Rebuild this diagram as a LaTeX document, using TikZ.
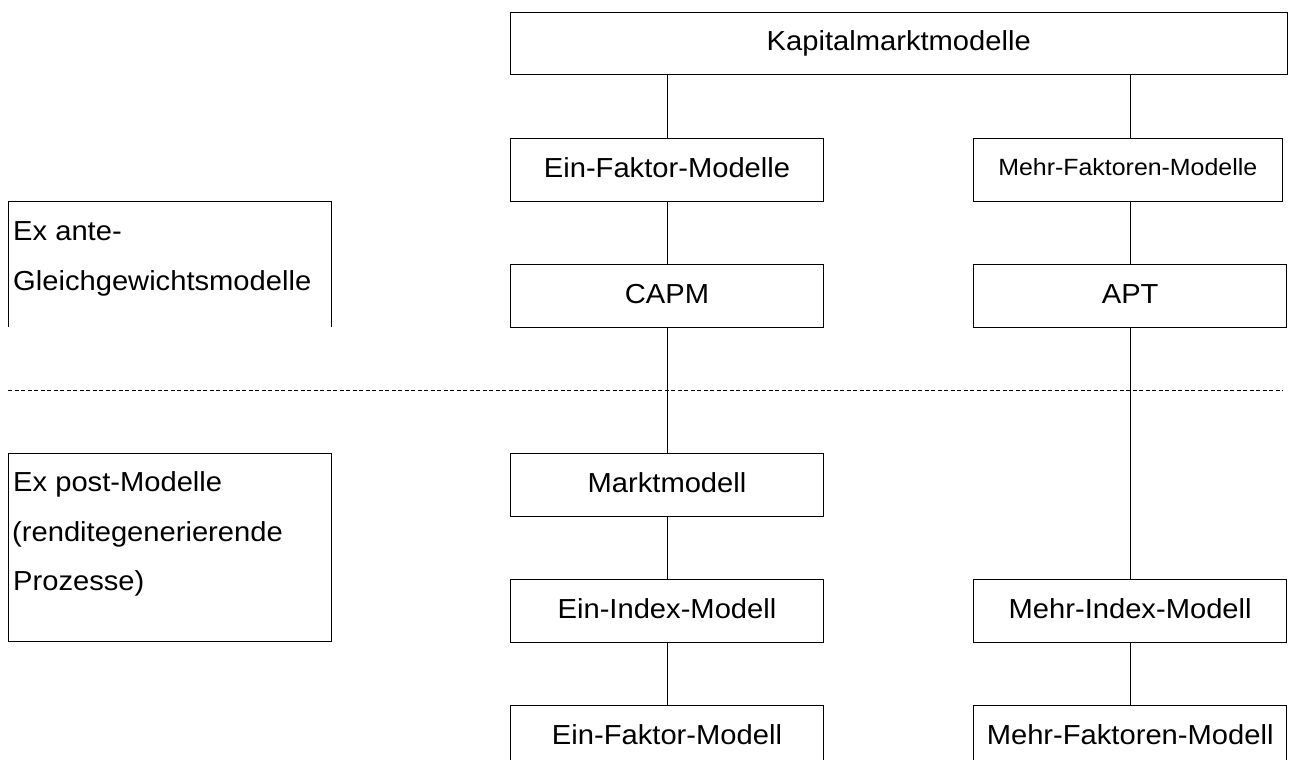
\documentclass[tikz,border=0pt]{standalone}
\usepackage{fontspec}
\setmainfont[FakeStretch=1.06]{Liberation Sans}
\begin{document}
\begin{tikzpicture}[x=1pt,y=-1pt,
  box/.style={draw, line width=1pt, inner sep=0pt, text height=19.7pt, text depth=5pt,
              font=\fontsize{27.5}{33}\selectfont},
  colbox/.style={box, minimum width=313pt, minimum height=63pt},
  lbl/.style={inner sep=0pt, anchor=base west, font=\fontsize{27.5}{33}\selectfont},
  link/.style={line width=1pt},
  sep/.style={line width=1pt, dash pattern=on 4pt off 2.5pt}]
\useasboundingbox (0,0) rectangle (1291,760);
\clip (0,0) rectangle (1291,760);

% top box
\node[box, minimum width=776.5pt, minimum height=62.7pt] (K) at (898.75,43.65) {Kapitalmarktmodelle};

% level 2
\node[colbox] (EFMs) at (667,169.65) {Ein-Faktor-Modelle};
\node[box, minimum width=309pt, minimum height=63pt, text height=16.8pt, text depth=4.5pt,
      font=\fontsize{23.5}{28}\selectfont] (MFMs) at (1127.8,169.65) {Mehr-Faktoren-Modelle};

% level 3
\node[colbox] (CAPM) at (667,295.8) {CAPM};
\node[colbox] (APT) at (1130.15,295.8) {APT};

% level 4
\node[colbox] (MM) at (667,484.65) {Marktmodell};

% level 5
\node[colbox] (EIM) at (667,610.8) {Ein-Index-Modell};
\node[colbox] (MIM) at (1130.15,610.8) {Mehr-Index-Modell};

% level 6
\node[colbox] (EFM) at (667,736.8) {Ein-Faktor-Modell};
\node[colbox] (MFM) at (1130.15,736.8) {Mehr-Faktoren-Modell};

% separator
\draw[sep] (8,390) -- (1283,390);

% connectors
\draw[link] (K.south -| EFMs.north) -- (EFMs.north);
\draw[link] (K.south -| APT.north) -- (APT.north |- MFMs.north);
\draw[link] (EFMs.south) -- (CAPM.north);
\draw[link] (APT.north |- MFMs.south) -- (APT.north);
\draw[link] (CAPM.south) -- (MM.north);
\draw[link] (MM.south) -- (EIM.north);
\draw[link] (APT.south) -- (MIM.north);
\draw[link] (EIM.south) -- (EFM.north);
\draw[link] (MIM.south) -- (MFM.north);

% left side boxes
\draw[link] (8.3,327) -- (8.3,201) -- (331.7,201) -- (331.7,327);
\node[lbl] (exa1) at (13,240) {Ex ante-};
\node[lbl] (exa2) at (13,290) {Gleichgewichtsmodelle};

\draw[link] (8.3,453.3) rectangle (331.7,641.7);
\node[lbl] (exp1) at (13,491.7) {Ex post-Modelle};
\node[lbl] (exp2) at (12,541) {(renditegenerierende};
\node[lbl] (exp3) at (13,590.7) {Prozesse)};
\end{tikzpicture}
\end{document}
